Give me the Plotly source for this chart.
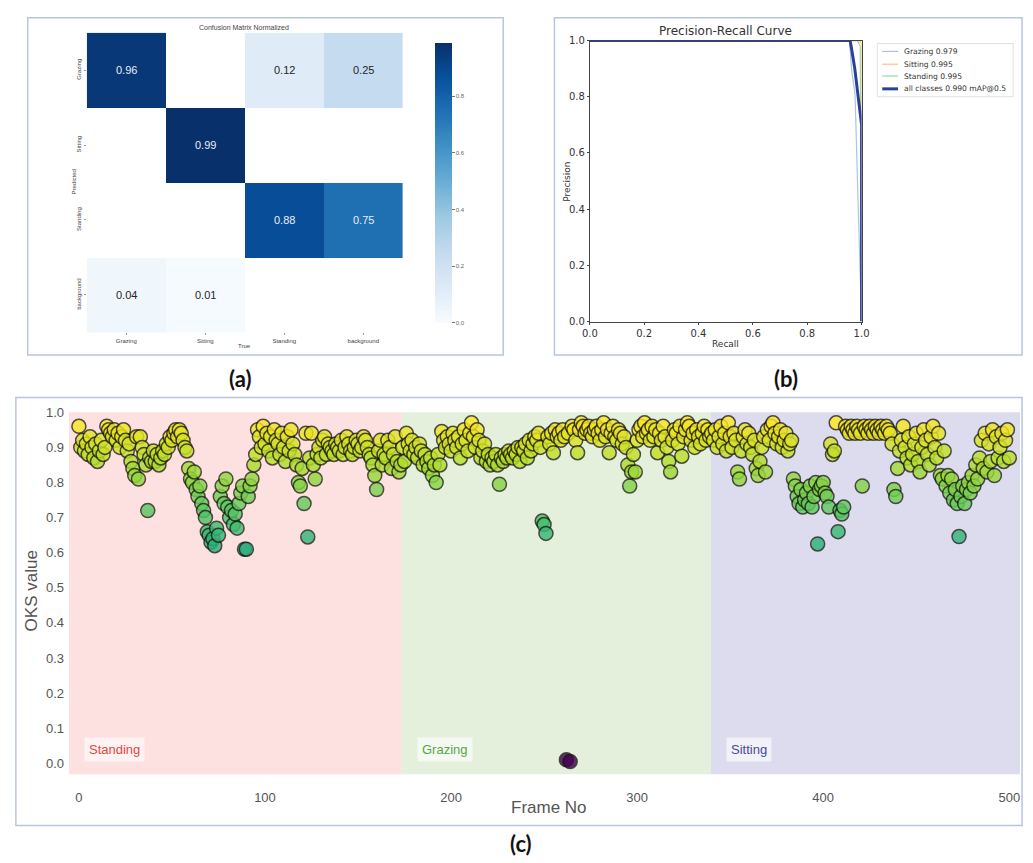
import plotly.graph_objects as go

W, H = 1033, 863

# ---------------- data ----------------
cm_true = ["Grazing", "Sitting", "Standing", "background"]
cm_pred = ["Grazing", "Sitting", "Standing", "background"]
cm_values = [
    [0.96, None, 0.12, 0.25],
    [None, 0.99, None, None],
    [None, None, 0.88, 0.75],
    [0.04, 0.01, None, None],
]

pr_names = ["Grazing 0.979", "Sitting 0.995", "Standing 0.995", "all classes 0.990 mAP@0.5"]
pr_recall = [
    [0.0, 0.90, 0.955, 0.964, 0.976, 0.985, 0.994, 1.0],
    [0.0, 0.99, 1.0, 1.0],
    [0.0, 0.985, 0.995, 1.0],
    [0.0, 0.90, 0.958, 0.965, 0.975, 0.99, 1.0, 1.0],
]
pr_precision = [
    [1.0, 1.0, 1.0, 0.89, 0.81, 0.50, 0.21, 0.0],
    [1.0, 1.0, 0.99, 0.0],
    [1.0, 1.0, 0.98, 0.0],
    [1.0, 1.0, 1.0, 0.96, 0.90, 0.78, 0.70, 0.0],
]

oks_standing = [  # frames 0-173
    0.96, 0.90, 0.92, 0.89, 0.91, 0.88, 0.93, 0.90, 0.87, 0.91,
    0.86, 0.89, 0.92, 0.88, 0.90, 0.96, 0.95, 0.94, 0.93, 0.95,
    0.92, 0.94, 0.90, 0.93, 0.95, 0.92, 0.89, 0.91, 0.86, 0.84,
    0.82, 0.93, 0.81, 0.93, 0.90, 0.88, 0.85, 0.72, 0.87, 0.86,
    0.89, 0.86, 0.88, 0.85, 0.87, 0.89, 0.88, 0.91, 0.90, 0.93,
    0.92, 0.94, 0.95, 0.93, 0.95, 0.94, 0.92, 0.90, 0.89, 0.84,
    0.81, 0.80, 0.83, 0.78, 0.76, 0.79, 0.74, 0.72, 0.70, 0.66,
    0.65, 0.63, 0.64, 0.62, 0.67, 0.65, 0.76, 0.79, 0.74, 0.81,
    0.73, 0.70, 0.72, 0.68, 0.71, 0.67, 0.74, 0.77, 0.79, 0.61,
    0.61, 0.76, 0.79, 0.81, 0.85, 0.88, 0.95, 0.93, 0.90, 0.96,
    0.91, 0.94, 0.89, 0.93, 0.87, 0.95, 0.92, 0.91, 0.88, 0.94,
    0.90, 0.86, 0.93, 0.89, 0.95, 0.91, 0.88, 0.85, 0.80, 0.79,
    0.84, 0.74, 0.94, 0.645, 0.87, 0.94, 0.85, 0.81, 0.88, 0.90,
    0.87, 0.92, 0.93, 0.88, 0.91, 0.90, 0.89, 0.88, 0.91, 0.90,
    0.89, 0.92, 0.88, 0.90, 0.93, 0.91, 0.89, 0.88, 0.90, 0.92,
    0.91, 0.89, 0.90, 0.93, 0.92, 0.90, 0.88, 0.87, 0.85, 0.82,
    0.78, 0.89, 0.92, 0.85, 0.88, 0.87, 0.92, 0.90, 0.84, 0.88,
    0.93, 0.86, 0.83, 0.85,
]
oks_grazing = [  # frames 174-340
    0.90, 0.86, 0.94, 0.91, 0.89, 0.92, 0.88, 0.90, 0.87, 0.91,
    0.89, 0.85, 0.88, 0.86, 0.84, 0.87, 0.82, 0.85, 0.80, 0.88,
    0.85, 0.945, 0.92, 0.90, 0.93, 0.91, 0.89, 0.94, 0.92, 0.90,
    0.93, 0.87, 0.91, 0.95, 0.92, 0.89, 0.94, 0.97, 0.93, 0.90,
    0.95, 0.92, 0.87, 0.89, 0.91, 0.86, 0.88, 0.85, 0.87, 0.86,
    0.88, 0.85, 0.795, 0.87, 0.86, 0.88, 0.87, 0.89, 0.88, 0.87,
    0.89, 0.88, 0.90, 0.86, 0.90, 0.89, 0.91, 0.87, 0.92, 0.89,
    0.91, 0.93, 0.92, 0.94, 0.90, 0.69, 0.68, 0.655, 0.93, 0.91,
    0.94, 0.885, 0.95, 0.93, 0.94, 0.92, 0.95, 0.93, 0.01, 0.94,
    0.005, 0.96, 0.95, 0.92, 0.885, 0.95, 0.97, 0.96, 0.94, 0.95,
    0.96, 0.94, 0.93, 0.95, 0.96, 0.94, 0.92, 0.95, 0.97, 0.93,
    0.95, 0.885, 0.94, 0.96, 0.93, 0.92, 0.95, 0.94, 0.91, 0.93,
    0.90, 0.85, 0.79, 0.83, 0.88, 0.83, 0.92, 0.95, 0.96, 0.93,
    0.97, 0.94, 0.95, 0.92, 0.96, 0.93, 0.95, 0.885, 0.94, 0.92,
    0.96, 0.93, 0.90, 0.86, 0.83, 0.92, 0.95, 0.94, 0.91, 0.96,
    0.875, 0.93, 0.95, 0.97, 0.96, 0.92, 0.94, 0.90, 0.95, 0.93,
    0.91, 0.94, 0.96, 0.92, 0.95, 0.93, 0.94,
]
oks_sitting = [  # frames 341-500
    0.92, 0.95, 0.90, 0.93, 0.96, 0.91, 0.94, 0.89, 0.97, 0.93,
    0.90, 0.94, 0.92, 0.83, 0.81, 0.89, 0.93, 0.95, 0.91, 0.94,
    0.90, 0.88, 0.92, 0.84, 0.82, 0.86, 0.90, 0.93, 0.83, 0.95,
    0.92, 0.96, 0.97, 0.94, 0.91, 0.93, 0.95, 0.90, 0.92, 0.94,
    0.89, 0.91, 0.92, 0.81, 0.79, 0.76, 0.74, 0.78, 0.73, 0.75,
    0.77, 0.74, 0.79, 0.73, 0.76, 0.80, 0.625, 0.78, 0.79, 0.80,
    0.77, 0.76, 0.73, 0.91, 0.88, 0.89, 0.97, 0.66, 0.72, 0.71,
    0.73, 0.96, 0.95, 0.94, 0.96, 0.95, 0.94, 0.96, 0.95, 0.94,
    0.79, 0.96, 0.95, 0.94, 0.96, 0.95, 0.94, 0.96, 0.95, 0.94,
    0.96, 0.95, 0.94, 0.96, 0.95, 0.94, 0.91, 0.78, 0.76, 0.84,
    0.89, 0.92, 0.96, 0.90, 0.87, 0.93, 0.85, 0.88, 0.91, 0.94,
    0.86, 0.83, 0.90, 0.95, 0.92, 0.88, 0.85, 0.93, 0.96, 0.90,
    0.87, 0.94, 0.82, 0.81, 0.89, 0.79, 0.82, 0.77, 0.81, 0.75,
    0.78, 0.74, 0.646, 0.76, 0.79, 0.74, 0.78, 0.80, 0.77, 0.82,
    0.79, 0.85, 0.81, 0.87, 0.92, 0.84, 0.94, 0.83, 0.91, 0.86,
    0.95, 0.82, 0.93, 0.87, 0.90, 0.94, 0.86, 0.92, 0.95, 0.87,
]
oks_values = oks_standing + oks_grazing + oks_sitting
frame_no = list(range(len(oks_values)))

region_names = ["Standing", "Grazing", "Sitting"]
region_start = [-5.3, 173.5, 339.7]
region_end = [173.5, 339.7, 505.8]

x_ticks = [0, 100, 200, 300, 400, 500]
y_ticks = [0.0, 0.1, 0.2, 0.3, 0.4, 0.5, 0.6, 0.7, 0.8, 0.9, 1.0]

# ---------------- helpers (pixel -> paper) ----------------
def px(x):
    return x / W

def py(y):
    return 1 - y / H

fig = go.Figure()

# ---------------- (a) confusion matrix ----------------
fig.add_trace(go.Heatmap(
    z=cm_values, x=cm_true, y=cm_pred,
    colorscale="Blues", zmin=0, zmax=0.99,
    xaxis="x", yaxis="y", hoverongaps=False,
    colorbar=dict(
        x=px(424), xanchor="left", y=py(26), yanchor="top",
        len=304 / H, lenmode="fraction", thickness=17, thicknessmode="pixels",
        outlinewidth=0, tickvals=[0.0, 0.2, 0.4, 0.6, 0.8],
        ticktext=["0.0", "0.2", "0.4", "0.6", "0.8"],
        ticks="outside", ticklen=3, tickcolor="#777",
        tickfont=dict(size=6, color="#666", family="Liberation Sans"),
    ),
))

annotations = []
for i, row in enumerate(cm_values):
    for j, v in enumerate(row):
        if v is None:
            continue
        annotations.append(dict(
            x=cm_true[j], y=cm_pred[i], xref="x", yref="y",
            text=f"{v:.2f}", showarrow=False,
            font=dict(size=11, family="Liberation Sans",
                      color="#e8eef6" if v > 0.5 else "#262626"),
        ))

# ---------------- (b) PR curve ----------------
pr_colors = ["#a9c4e4", "#ffc08a", "#9fd69a", "#2b3f9e"]
pr_widths = [1.2, 1.2, 1.2, 3]
for name, r, p, c, w in zip(pr_names, pr_recall, pr_precision, pr_colors, pr_widths):
    fig.add_trace(go.Scatter(
        x=r, y=p, mode="lines", name=name, showlegend=False,
        line=dict(color=c, width=w), xaxis="x2", yaxis="y2",
    ))

# ---------------- (c) OKS scatter ----------------
fig.add_trace(go.Scatter(
    x=frame_no, y=oks_values, mode="markers", xaxis="x3", yaxis="y3",
    showlegend=False,
    marker=dict(
        size=14, color=oks_values, colorscale="Viridis",
        cmin=min(oks_values), cmax=max(oks_values),
        opacity=0.82, line=dict(color="rgba(20,20,10,0.9)", width=1.5),
    ),
))

region_fill = ["rgb(253,224,224)", "rgb(228,239,220)", "rgb(220,220,238)"]
region_text_color = ["#e8453c", "#55a84a", "#4a4a9a"]
shapes = []
for name, s, e, fc, tc in zip(region_names, region_start, region_end, region_fill, region_text_color):
    shapes.append(dict(type="rect", xref="x3", yref="y3 domain", x0=s, x1=e, y0=0, y1=1,
                       fillcolor=fc, line=dict(width=0), layer="below"))
    annotations.append(dict(
        x=s + 8.0, y=0.04, xref="x3", yref="y3", xanchor="left", yanchor="middle",
        text=name, showarrow=False, bgcolor="rgba(255,255,255,0.6)", borderpad=4,
        font=dict(size=13, color=tc, family="Liberation Sans"),
    ))

# panel borders
border = dict(color="#b7c5e0", width=1.5)
for (x0, y0, x1, y1) in [(20, 11, 503, 353), (555, 11, 1030, 353), (8, 396, 1030, 830)]:
    shapes.append(dict(type="rect", xref="paper", yref="paper",
                       x0=px(x0), x1=px(x1), y0=py(y1), y1=py(y0),
                       line=border, fillcolor="rgba(0,0,0,0)", layer="above"))

# texts in paper coords
def ptext(x, y, text, size, color="#222", family="Liberation Sans", angle=0, bold=False,
          xanchor="center"):
    annotations.append(dict(
        x=px(x), y=py(y), xref="paper", yref="paper", text=f"<b>{text}</b>" if bold else text,
        showarrow=False, textangle=angle, xanchor=xanchor, yanchor="middle",
        font=dict(size=size, color=color, family=family),
    ))

# custom legend for the PR panel (matplotlib-style, compact)
shapes.append(dict(type="rect", xref="paper", yref="paper",
                   x0=px(883), x1=px(1021), y0=py(91), y1=py(37),
                   line=dict(color="#e0e0e0", width=1), fillcolor="white", layer="above"))
leg_rows = [45, 58, 70, 83]
for name, c, w, yy in zip(pr_names, pr_colors, pr_widths, leg_rows):
    shapes.append(dict(type="line", xref="paper", yref="paper",
                       x0=px(888), x1=px(904), y0=py(yy), y1=py(yy),
                       line=dict(color=c, width=w), layer="above"))
    ptext(908, yy, name, 7.6, "#333", family="DejaVu Sans", xanchor="left")

ptext(240, 21, "Confusion Matrix Normalized", 7, "#444")
ptext(67, 177, "Predicted", 6, "#444", angle=-90)
ptext(240, 344, "True", 6, "#444")
ptext(729, 24, "Precision-Recall Curve", 12, "#333", family="DejaVu Sans")
ptext(729, 342, "Recall", 9, "#333", family="DejaVu Sans")
ptext(567, 177, "Precision", 9, "#333", family="DejaVu Sans", angle=-90)
ptext(24, 592, "OKS value", 17, "#555", angle=-90)
ptext(550, 812, "Frame No", 17, "#555")
ptext(236, 377, "(a)", 22, "#111", family="Lato", bold=True)
ptext(790, 377, "(b)", 22, "#111", family="Lato", bold=True)
ptext(521, 848, "(c)", 22, "#111", family="Lato", bold=True)

fig.update_layout(
    width=W, height=H, margin=dict(l=0, r=0, t=0, b=0),
    paper_bgcolor="white", plot_bgcolor="white",
    font=dict(family="Liberation Sans"),
    annotations=annotations, shapes=shapes, showlegend=False,
    # heatmap axes
    xaxis=dict(domain=[px(80), px(401)], anchor="y", showgrid=False, zeroline=False,
               tickfont=dict(size=6, color="#444"), ticks="outside", ticklen=2, tickcolor="#999"),
    yaxis=dict(domain=[py(330), py(26)], anchor="x", autorange="reversed", showgrid=False,
               zeroline=False, tickangle=-90, tickfont=dict(size=6, color="#444"),
               ticks="outside", ticklen=2, tickcolor="#999"),
    # PR axes
    xaxis2=dict(domain=[px(591), px(867)], anchor="y2", range=[0, 1], showgrid=False, zeroline=False,
                showline=True, mirror=True, linecolor="#444", linewidth=1,
                ticks="outside", ticklen=2, tickcolor="#444",
                tickvals=[0, 0.2, 0.4, 0.6, 0.8, 1.0], ticktext=["0.0", "0.2", "0.4", "0.6", "0.8", "1.0"],
                tickfont=dict(size=10, color="#333", family="DejaVu Sans")),
    yaxis2=dict(domain=[py(319), py(34)], anchor="x2", range=[0, 1], showgrid=False, zeroline=False,
                showline=True, mirror=True, linecolor="#444", linewidth=1,
                ticks="outside", ticklen=2, tickcolor="#444",
                tickvals=[0, 0.2, 0.4, 0.6, 0.8, 1.0], ticktext=["0.0", "0.2", "0.4", "0.6", "0.8", "1.0"],
                tickfont=dict(size=10, color="#333", family="DejaVu Sans")),
    # scatter axes
    xaxis3=dict(domain=[px(62), px(1028)], anchor="y3", range=[-5.3, 505.8], showgrid=False,
                zeroline=False, showline=False, tickvals=x_ticks, ticks="",
                ticklabelstandoff=14, tickfont=dict(size=13, color="#555")),
    yaxis3=dict(domain=[py(778), py(411)], anchor="x3", range=[-0.031, 1.0], showgrid=False,
                zeroline=False, showline=False, tickvals=y_ticks,
                ticktext=[f"{v:.1f}" for v in y_ticks], ticks="",
                ticklabelstandoff=4, tickfont=dict(size=13, color="#555")),
)

fig.write_html(
    "out.html",
    config={"displayModeBar": False, "staticPlot": True},
    post_script=(
        "document.body.style.margin='0px';document.body.style.padding='0px';"
        "document.body.style.overflow='hidden';"
        "document.documentElement.style.overflow='hidden';"
    ),
)
